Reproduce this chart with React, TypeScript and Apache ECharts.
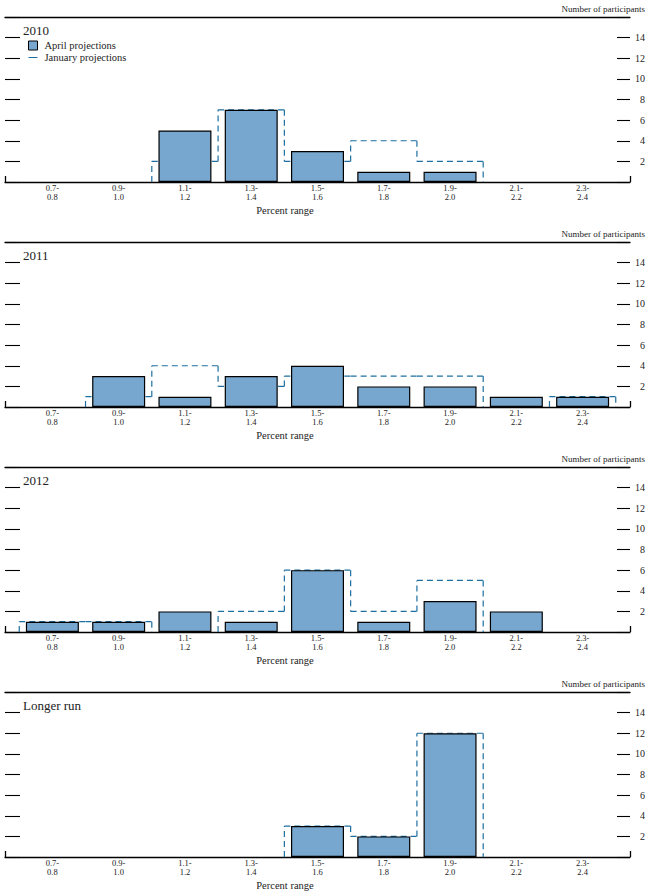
import React, { useEffect, useRef } from "react";
import * as echarts from "echarts";

const categories = [
  "0.7-\n0.8", "0.9-\n1.0", "1.1-\n1.2", "1.3-\n1.4", "1.5-\n1.6",
  "1.7-\n1.8", "1.9-\n2.0", "2.1-\n2.2", "2.3-\n2.4",
];
const panelTitles = ["2010", "2011", "2012", "Longer run"];
const april2010 = [0, 0, 5, 7, 3, 1, 1, 0, 0];
const january2010 = [0, 0, 2, 7, 2, 4, 2, 0, 0];
const april2011 = [0, 3, 1, 3, 4, 2, 2, 1, 1];
const january2011 = [0, 1, 4, 2, 3, 3, 3, 0, 1];
const april2012 = [1, 1, 2, 1, 6, 1, 3, 2, 0];
const january2012 = [1, 1, 0, 2, 6, 2, 5, 0, 0];
const aprilLonger = [0, 0, 0, 0, 3, 2, 12, 0, 0];
const januaryLonger = [0, 0, 0, 0, 3, 2, 12, 0, 0];

const aprilSeries = [april2010, april2011, april2012, aprilLonger];
const januarySeries = [january2010, january2011, january2012, januaryLonger];

const FONT = '"Liberation Serif", "Times New Roman", serif';
const BAR = "#77a7cf";
const DASH = "#1d6fa0";
const TEXT = "#222";
const X_MIN = -0.715;
const X_MAX = 8.715;
const PANEL_H = 225;

export default function App() {
  const ref = useRef<HTMLDivElement>(null);
  useEffect(() => {
    if (!ref.current) return;
    const chart = echarts.init(ref.current, undefined, { renderer: "svg" });
    const grids: any[] = [];
    const xAxes: any[] = [];
    const yAxes: any[] = [];
    const series: any[] = [];
    const titles: any[] = [];
    panelTitles.forEach((t, k) => {
      const off = PANEL_H * k;
      grids.push({ left: 5, right: 20, top: 17 + off, height: 165 });
      xAxes.push({
        type: "value", gridIndex: k, min: X_MIN, max: X_MAX, position: "bottom",
        axisLine: { show: true, onZero: false, lineStyle: { color: "#000", width: 1.3 } },
        axisTick: { show: true, inside: true, length: 6, customValues: [X_MIN, X_MAX], lineStyle: { color: "#000", width: 1.3 } },
        axisLabel: {
          show: true, customValues: categories.map((_, i) => i),
          formatter: (v: number) => categories[Math.round(v)] ?? "",
          fontFamily: FONT, fontSize: 8.5, lineHeight: 8.5, color: TEXT, margin: 2,
        },
        splitLine: { show: false },
      });
      xAxes.push({
        type: "value", gridIndex: k, min: X_MIN, max: X_MAX, position: "top",
        axisLine: { show: true, onZero: false, lineStyle: { color: "#000", width: 1.3 } },
        axisTick: { show: false }, axisLabel: { show: false }, splitLine: { show: false },
      });
      yAxes.push({
        type: "value", gridIndex: k, min: 0, max: 16, interval: 2, position: "left",
        axisLine: { show: false, onZero: false },
        axisTick: { show: true, inside: true, length: 15, lineStyle: { color: "#000", width: 1.1 } },
        axisLabel: { show: false }, splitLine: { show: false },
      });
      yAxes.push({
        type: "value", gridIndex: k, min: 0, max: 16, interval: 2, position: "right",
        axisLine: { show: false, onZero: false },
        axisTick: { show: true, inside: true, length: 13, lineStyle: { color: "#000", width: 1.1 } },
        axisLabel: {
          show: true, align: "right", margin: 15, fontFamily: FONT, fontSize: 10, color: TEXT,
          formatter: (v: number) => (v === 0 || v === 16 ? "" : String(v)),
        },
        splitLine: { show: false },
      });
      const jan = januarySeries[k];
      series.push({
        type: "custom", name: "January projections", xAxisIndex: 2 * k, yAxisIndex: 2 * k, z: 1,
        itemStyle: { color: DASH },
        data: jan.map((v, i) => [i, v, i > 0 ? jan[i - 1] : 0, i === jan.length - 1 ? 1 : 0]),
        renderItem: (_p: any, api: any) => {
          const i = api.value(0), v = api.value(1), prev = api.value(2), last = api.value(3);
          const [xl, yv] = api.coord([i - 0.5, v]);
          const [xr] = api.coord([i + 0.5, v]);
          const [, yp] = api.coord([i - 0.5, prev]);
          const [, y0] = api.coord([i, 0]);
          const style = { stroke: DASH, lineWidth: 1.2, lineDash: [6, 4], fill: null };
          const children: any[] = [];
          if (v > 0) children.push({ type: "line", shape: { x1: xl, y1: yv, x2: xr, y2: yv }, style });
          if (v !== prev) children.push({ type: "line", shape: { x1: xl, y1: yp, x2: xl, y2: yv }, style });
          if (last && v > 0) children.push({ type: "line", shape: { x1: xr, y1: yv, x2: xr, y2: y0 }, style });
          return { type: "group", children };
        },
      });
      series.push({
        type: "bar", name: "April projections", xAxisIndex: 2 * k, yAxisIndex: 2 * k, z: 3,
        barWidth: 53,
        itemStyle: { color: BAR, borderColor: "#000", borderWidth: 1.2 },
        data: aprilSeries[k].map((v, i) => [i, v]).filter((d) => d[1] > 0),
      });
      titles.push({
        text: t, left: 23, top: 24 + off, padding: 0,
        textStyle: { fontFamily: FONT, fontSize: 13, fontWeight: "normal", color: TEXT },
      });
      titles.push({
        text: "Number of participants", left: 645, top: 4 + off, padding: 0, textAlign: "right",
        textStyle: { fontFamily: FONT, fontSize: 9, fontWeight: "normal", color: TEXT },
      });
      titles.push({
        text: "Percent range", left: 285, top: 205 + off, padding: 0, textAlign: "center",
        textStyle: { fontFamily: FONT, fontSize: 10.5, fontWeight: "normal", color: TEXT },
      });
    });
    chart.setOption({
      animation: false,
      title: titles,
      legend: {
        orient: "vertical", left: 28, top: 40, padding: 0, itemWidth: 9, itemHeight: 9, itemGap: 1,
        textStyle: { fontFamily: FONT, fontSize: 10.5, color: TEXT, lineHeight: 9, padding: [0, 0, 0, 2] },
        data: [
          { name: "April projections", icon: "rect", itemStyle: { color: BAR, borderColor: "#000", borderWidth: 1 } },
          {
            name: "January projections",
            icon: "path://M0,0h0.01v0.01h-0.01z M0,4.4h10v1.2h-10z M9.99,9.99h0.01v0.01h-0.01z",
            itemStyle: { color: DASH, borderWidth: 0 },
          },
        ],
      },
      grid: grids,
      xAxis: xAxes,
      yAxis: yAxes,
      series,
    });
    return () => chart.dispose();
  }, []);
  return (
    <div
      ref={ref}
      style={{ position: "absolute", left: 0, top: 0, width: 650, height: 896 }}
    />
  );
}
